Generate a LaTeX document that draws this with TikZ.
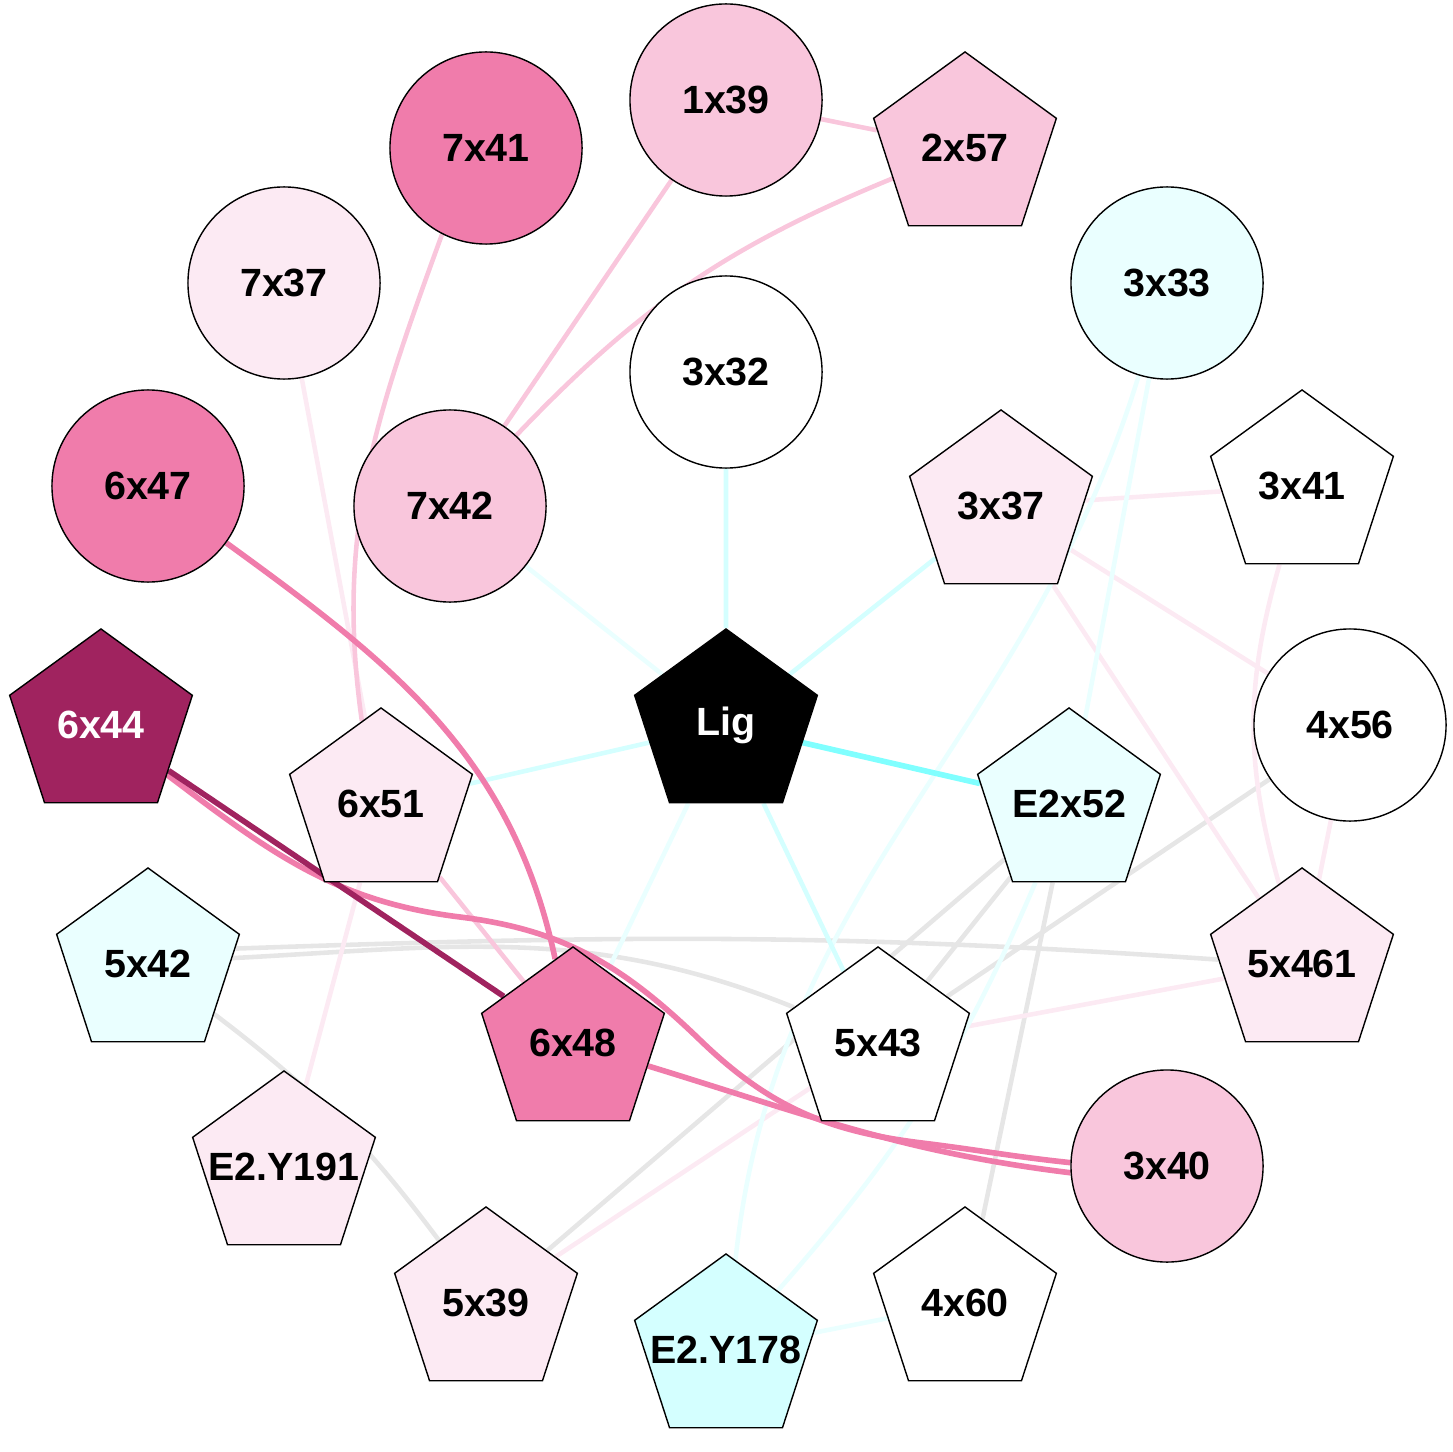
\documentclass[tikz,border=0pt]{standalone}
\usepackage{fontspec}
\setmainfont{Liberation Sans}
\usetikzlibrary{shapes.geometric,backgrounds}

\definecolor{pinkdark}{HTML}{A0235F}
\definecolor{pinkmid}{HTML}{F07CAB}
\definecolor{pinklight}{HTML}{F9C6DC}
\definecolor{pinkpale}{HTML}{FCEAF3}
\definecolor{cyanpale}{HTML}{EAFFFF}
\definecolor{cyanlight}{HTML}{D4FFFF}
\definecolor{cyanmid}{HTML}{80FFFF}
\definecolor{greyline}{HTML}{E6E6E6}

\begin{document}
\begin{tikzpicture}[x=0.01cm, y=0.01cm]

    \tikzstyle{res} = [draw, line width=0.4pt, inner sep=0pt, font=\fontsize{11.2}{13}\selectfont\bfseries];
    \tikzstyle{circ} = [res, circle, minimum size=1.92cm];
    \tikzstyle{pent} = [res, regular polygon, regular polygon sides=5, minimum size=1.92cm, inner sep=-10pt];
    \tikzstyle{link} = [line width=1.3pt];
    \tikzstyle{strong} = [line width=1.6pt];

    \useasboundingbox (0,0) rectangle (1452,-1452);

    % residues
    \node[circ, fill=pinkmid] (r7x41) at (486,-148) {7x41};
    \node[circ, fill=pinklight] (r1x39) at (726,-100) {1x39};
    \node[pent, fill=pinklight] (r2x57) at (965,-148) {2x57};
    \node[circ, fill=pinkpale] (r7x37) at (284,-283) {7x37};
    \node[circ, fill=cyanpale] (r3x33) at (1167,-283) {3x33};
    \node[circ, fill=white] (r3x32) at (726,-372) {3x32};
    \node[circ, fill=pinkmid] (r6x47) at (148,-486) {6x47};
    \node[circ, fill=pinklight] (r7x42) at (450,-506) {7x42};
    \node[pent, fill=pinkpale] (r3x37) at (1001,-506) {3x37};
    \node[pent, fill=white] (r3x41) at (1302,-486) {3x41};
    \node[circ, fill=white] (r4x56) at (1350,-725) {4x56};
    \node[pent, fill=black, text=white] (lig) at (726,-725) {Lig};
    \node[pent, fill=pinkdark, text=white] (r6x44) at (101,-725) {6x44};
    \node[pent, fill=pinkpale] (r6x51) at (381,-804) {6x51};
    \node[pent, fill=cyanpale] (e2x52) at (1069,-804) {E2x52};
    \node[pent, fill=cyanpale] (r5x42) at (148,-964) {5x42};
    \node[pent, fill=pinkpale] (r5x461) at (1302,-964) {5x461};
    \node[pent, fill=pinkmid] (r6x48) at (573,-1043) {6x48};
    \node[pent, fill=white] (r5x43) at (878,-1043) {5x43};
    \node[circ, fill=pinklight] (r3x40) at (1167,-1166) {3x40};
    \node[pent, fill=pinkpale] (e2y191) at (284,-1167) {E2.Y191};
    \node[pent, fill=pinkpale] (r5x39) at (486,-1303) {5x39};
    \node[pent, fill=white] (r4x60) at (965,-1303) {4x60};
    \node[pent, fill=cyanlight] (e2y178) at (726,-1350) {E2.Y178};

    \coordinate (via1) at (460,-917);
    \coordinate (via2) at (700,-1040);
    \coordinate (via3) at (922,-1143);

    \begin{scope}[on background layer]
        % grey
        \draw[link, greyline] (r4x56) -- (r5x43);
        \draw[link, greyline] (e2x52) -- (r5x43);
        \draw[link, greyline] (e2x52) -- (r5x39);
        \draw[link, greyline] (e2x52) -- (r4x60);
        \draw[link, greyline] (r5x42.10) to[out=2, in=176] (r5x461.177);
        \draw[link, greyline] (r5x42.4) to[out=3, in=158] (r5x43.157);
        \draw[link, greyline] (r5x42) to[bend left=8] (r5x39);

        % pale pink
        \draw[link, pinkpale] (r3x37) -- (r3x41);
        \draw[link, pinkpale] (r3x37) -- (r4x56);
        \draw[link, pinkpale] (r3x37) -- (r5x461);
        \draw[link, pinkpale] (r3x41) to[bend right=16] (r5x461);
        \draw[link, pinkpale] (r4x56) -- (r5x461);
        \draw[link, pinkpale] (r5x43) -- (r5x461);
        \draw[link, pinkpale] (r5x43) -- (r5x39);
        \draw[link, pinkpale] (r7x37) -- (r6x51);
        \draw[link, pinkpale] (r6x51) -- (e2y191);

        % cyan
        \draw[link, cyanpale] (r3x33) -- (e2x52);
        \draw[link, cyanpale] (r3x33) to[out=-107, in=84] (e2y178);
        \draw[link, cyanpale] (e2x52) to[bend left=9] (e2y178);
        \draw[link, cyanpale] (e2y178) -- (r4x60);
        \draw[link, cyanlight] (r3x32) -- (lig);
        \draw[link, cyanpale] (r7x42) -- (lig);
        \draw[link, cyanlight] (r3x37) -- (lig);
        \draw[link, cyanlight] (r6x51) -- (lig);
        \draw[link, cyanpale] (lig) -- (r6x48);
        \draw[link, cyanlight] (lig) -- (r5x43);
        \draw[strong, cyanmid] (lig) -- (e2x52);

        % pink
        \draw[link, pinklight] (r1x39) -- (r2x57);
        \draw[link, pinklight] (r1x39) -- (r7x42);
        \draw[link, pinklight] (r7x42) to[bend left=12] (r2x57);
        \draw[link, pinklight] (r7x41.-117) to[out=-110, in=98] (r6x51.103);
        \draw[link, pinklight] (r6x51) -- (r6x48);
        \draw[strong, pinkmid] (r6x47) to[out=-36, in=102] (r6x48);
        \draw[strong, pinkmid] (r6x48) to[out=-17, in=173] (r3x40.184);
        \draw[strong, pinkmid] (r6x44) to[out=-37, in=173] (via1) to[out=-7, in=136] (via2)
            to[out=-44, in=173] (via3) to[out=-7, in=174] (r3x40.178);
        \draw[strong, pinkdark] (r6x44) -- (r6x48);
    \end{scope}

\end{tikzpicture}
\end{document}
